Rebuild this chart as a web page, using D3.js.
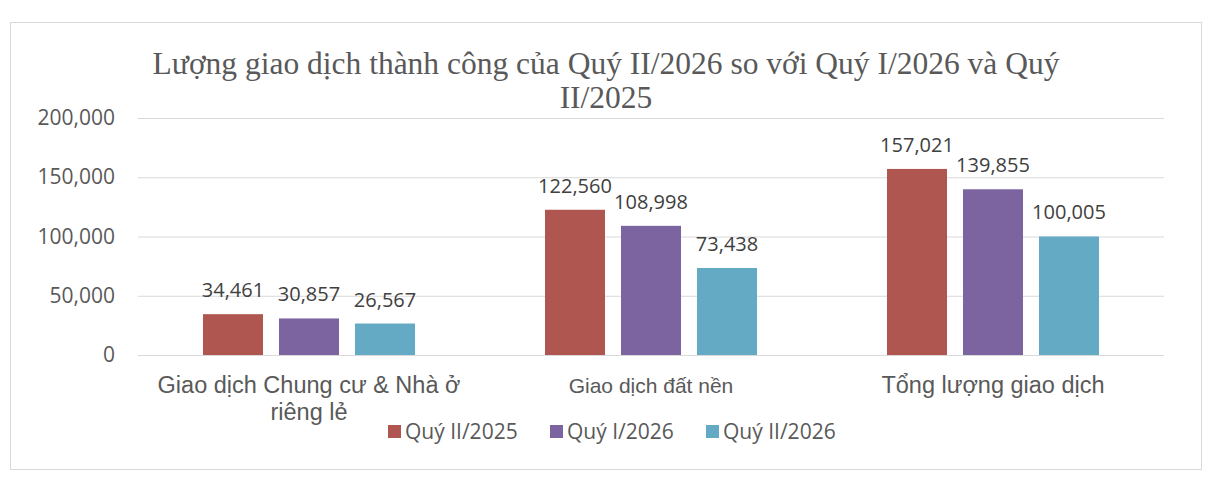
<!DOCTYPE html>
<html>
<head>
<meta charset="utf-8">
<script src="https://cdn.jsdelivr.net/npm/d3@7"></script>
<style>
  html, body { margin: 0; padding: 0; background: #fff; }
  svg { display: block; }
</style>
</head>
<body>
<div id="container"></div>
<script>
const categories = [
  ['Giao dịch Chung cư & Nhà ở', 'riêng lẻ'],
  ['Giao dịch đất nền'],
  ['Tổng lượng giao dịch']
];
const seriesNames = ['Quý II/2025', 'Quý I/2026', 'Quý II/2026'];
const seriesColors = ['#b05651', '#7b64a0', '#64aac4'];
const q2_2025 = [34461, 122560, 157021];
const q1_2026 = [30857, 108998, 139855];
const q2_2026 = [26567, 73438, 100005];
const yTicks = [0, 50000, 100000, 150000, 200000];
const titleLines = [
  'Lượng giao dịch thành công của Quý II/2026 so với Quý I/2026 và Quý',
  'II/2025'
];

const values = [q2_2025, q1_2026, q2_2026];
const catKeys = categories.map(c => c.join(' '));

const width = 1218, height = 500;
const plot = { left: 138, right: 1164, top: 118, bottom: 355 };
const grey = '#595959';
const sans = '"Open Sans", sans-serif';
const arial = '"Liberation Sans", Arial, sans-serif';
// the middle category label is set a little smaller in the source
const catFontSize = ['23.5px', '21px', '23.5px'];

const svg = d3.select('#container').append('svg')
  .attr('width', width)
  .attr('height', height);

// chart frame
svg.append('rect')
  .attr('x', 10.5).attr('y', 22.5)
  .attr('width', 1191).attr('height', 447)
  .attr('fill', '#fff')
  .attr('stroke', '#d9d9d9');

// title
svg.append('text')
  .attr('x', 606)
  .attr('text-anchor', 'middle')
  .attr('fill', grey)
  .style('font-family', '"Liberation Serif", "Times New Roman", serif')
  .style('font-size', '31.5px')
  .selectAll('tspan').data(titleLines).enter().append('tspan')
  .attr('x', 606)
  .attr('y', (d, i) => 74 + i * 34)
  .text(d => d);

// scales
const x0 = d3.scaleBand()
  .domain(catKeys)
  .range([plot.left, plot.right]);

const x1 = d3.scaleBand()
  .domain(seriesNames)
  .range([0, x0.bandwidth()])
  .paddingInner(16 / 76)
  .paddingOuter(0.855);

const y = d3.scaleLinear()
  .domain([0, 200000])
  .range([plot.bottom, plot.top]);

// y axis with gridlines
const yAxis = d3.axisLeft(y)
  .tickValues(yTicks)
  .tickSize(-(plot.right - plot.left))
  .tickPadding(23)
  .tickFormat(d3.format(','));

const yg = svg.append('g')
  .attr('transform', `translate(${plot.left}, 0)`)
  .call(yAxis);
yg.select('.domain').remove();
yg.selectAll('.tick line').attr('stroke', '#d9d9d9');
yg.selectAll('.tick text')
  .attr('fill', grey)
  .style('font-family', sans)
  .style('font-size', '21px');

// bars
const groups = svg.append('g').selectAll('g')
  .data(catKeys).enter().append('g')
  .attr('transform', d => `translate(${x0(d)}, 0)`);

groups.selectAll('rect')
  .data((d, ci) => seriesNames.map((s, si) => ({ s, si, v: values[si][ci] })))
  .enter().append('rect')
  .attr('x', d => x1(d.s))
  .attr('y', d => y(d.v))
  .attr('width', x1.bandwidth())
  .attr('height', d => y(0) - y(d.v))
  .attr('fill', d => seriesColors[d.si]);

groups.selectAll('text.value')
  .data((d, ci) => seriesNames.map((s, si) => ({ s, si, v: values[si][ci] })))
  .enter().append('text')
  .classed('value', true)
  .attr('x', d => x1(d.s) + x1.bandwidth() / 2)
  .attr('y', d => y(d.v) - 17)
  .attr('text-anchor', 'middle')
  .attr('fill', '#404040')
  .style('font-family', sans)
  .style('font-size', '20px')
  .text(d => d3.format(',')(d.v));

// category labels
svg.append('g').selectAll('text')
  .data(categories).enter().append('text')
  .attr('text-anchor', 'middle')
  .attr('fill', grey)
  .style('font-family', arial)
  .style('font-size', (d, i) => catFontSize[i])
  .each(function (d, i) {
    const cx = x0(catKeys[i]) + x0.bandwidth() / 2;
    d3.select(this).selectAll('tspan').data(d).enter().append('tspan')
      .attr('x', cx)
      .attr('y', (t, j) => 393 + j * 27)
      .text(t => t);
  });

// legend
const legendX = [388, 550, 706];
const legend = svg.append('g').selectAll('g')
  .data(seriesNames).enter().append('g')
  .attr('transform', (d, i) => `translate(${legendX[i]}, 425)`);
legend.append('rect')
  .attr('width', 13).attr('height', 13)
  .attr('fill', (d, i) => seriesColors[i]);
legend.append('text')
  .attr('x', 17).attr('y', 14)
  .attr('fill', grey)
  .style('font-family', sans)
  .style('font-size', '21px')
  .text(d => d);
</script>
</body>
</html>
